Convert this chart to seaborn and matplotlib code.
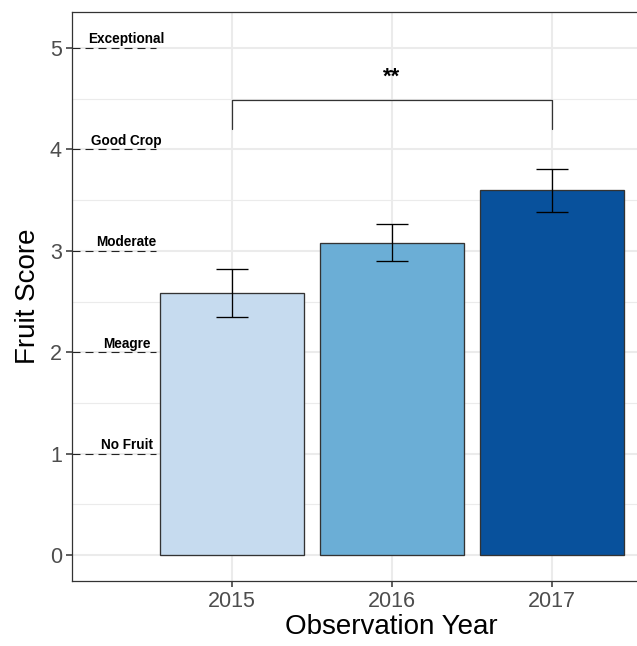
import matplotlib
matplotlib.use("Agg")
import matplotlib.pyplot as plt
import seaborn as sns
import pandas as pd
import numpy as np

# ---- data ----
years = ["2015", "2016", "2017"]
scores = [2.58, 3.08, 3.60]
err_low = [2.35, 2.90, 3.38]
err_high = [2.82, 3.26, 3.81]
bar_colors = ["#C6DBEF", "#6BAED6", "#08519C"]

level_values = [1, 2, 3, 4, 5]
level_labels = ["No Fruit", "Meagre", "Moderate", "Good Crop", "Exceptional"]

bracket_x = [0, 2]
bracket_top = 4.49
bracket_bottom = 4.20
sig_label = "**"

y_ticks = [0, 1, 2, 3, 4, 5]

# ---- style ----
sns.set_theme(style="white")
plt.rcParams["font.family"] = ["Liberation Sans", "DejaVu Sans"]

df = pd.DataFrame({"year": years, "score": scores})

fig = plt.figure(figsize=(6.37, 6.46), dpi=100)
ax = fig.add_axes([71.5 / 637, 65 / 646, 640 / 637, 569 / 646])

# grid
for v in np.arange(0.5, 5.5, 1.0):
    ax.axhline(v, color="#EBEBEB", lw=0.8, zorder=0)
for v in y_ticks:
    ax.axhline(v, color="#EBEBEB", lw=1.5, zorder=0)
for i in range(len(years)):
    ax.axvline(i, color="#EBEBEB", lw=1.5, zorder=0)

sns.barplot(data=df, x="year", y="score", hue="year", palette=bar_colors,
            legend=False, width=0.9, edgecolor="#333333", linewidth=0.95,
            saturation=1, errorbar=None, ax=ax, zorder=2)

xpos = np.arange(len(years))
lower = np.array(scores) - np.array(err_low)
upper = np.array(err_high) - np.array(scores)
ax.errorbar(xpos, scores, yerr=[lower, upper], fmt="none", ecolor="black",
            elinewidth=0.95, capsize=11.5, capthick=0.95, zorder=3)

# level reference lines and labels
for v, lab in zip(level_values, level_labels):
    ax.plot([-1.0, -0.47], [v, v], color="#222222", lw=0.8,
            linestyle=(0, (7.2, 4.5)), zorder=3, clip_on=False)
    ax.text(-0.656, v + 0.045, lab, ha="center", va="baseline",
            fontsize=9.8, fontweight="bold", color="black", zorder=4)

# significance bracket
ax.plot([bracket_x[0], bracket_x[0], bracket_x[1], bracket_x[1]],
        [bracket_bottom, bracket_top, bracket_top, bracket_bottom],
        color="#333333", lw=0.9, zorder=3)
ax.text(np.mean(bracket_x), 4.66, sig_label, ha="center", va="baseline",
        fontsize=16, color="black", fontweight="bold")

ax.set_xlim(-1, 3)
ax.set_ylim(-0.255, 5.355)
ax.set_yticks(y_ticks)
ax.set_xticks(xpos)
ax.set_xticklabels(years)

ax.set_xlabel("Observation Year", fontsize=20, color="black", labelpad=2)
ax.set_ylabel("Fruit Score", fontsize=20, color="black", labelpad=6)

ax.tick_params(axis="both", which="major", direction="out", length=4.5,
               width=1.1, color="#333333", labelsize=15.5,
               labelcolor="#4D4D4D", pad=2.5, bottom=True, left=True)

for s in ax.spines.values():
    s.set_color("#333333")
    s.set_linewidth(0.9)
    s.set_zorder(5)
ax.spines["right"].set_visible(False)

fig.savefig("out.png", dpi=100)
